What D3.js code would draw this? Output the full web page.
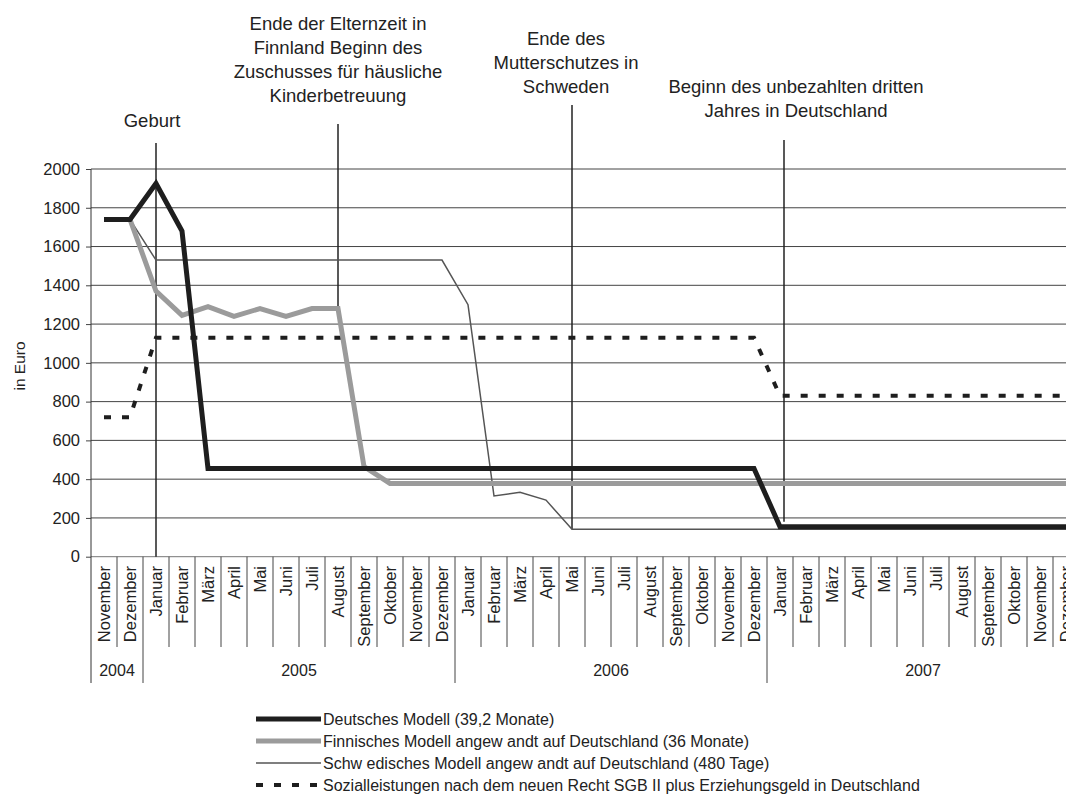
<!DOCTYPE html>
<html>
<head>
<meta charset="utf-8">
<title>Elterngeld Modelle</title>
<script src="https://d3js.org/d3.v7.min.js"></script>
<style>
body { margin: 0; background: white; }
svg text { fill: #222; font-family: "Liberation Sans", Arial, sans-serif; }
</style>
</head>
<body>
<script>
// months from November 2004 to Dezember 2007
var months = ["November","Dezember",
  "Januar","Februar","März","April","Mai","Juni","Juli","August","September","Oktober","November","Dezember",
  "Januar","Februar","März","April","Mai","Juni","Juli","August","September","Oktober","November","Dezember",
  "Januar","Februar","März","April","Mai","Juni","Juli","August","September","Oktober","November","Dezember"];
var years = ["2004","2005","2006","2007"];
var yearMonths = [2,12,12,12];

// series values in Euro, one per month
var deutsch = [1740,1740,1925,1680,455,455,455,455,455,455,455,455,455,455,
  455,455,455,455,455,455,455,455,455,455,455,455,
  155,155,155,155,155,155,155,155,155,155,155,155];
var finnisch = [1740,1740,1370,1245,1290,1240,1280,1240,1280,1280,465,378,378,378,
  378,378,378,378,378,378,378,378,378,378,378,378,
  378,378,378,378,378,378,378,378,378,378,378,378];
var schwedisch = [1740,1740,1530,1530,1530,1530,1530,1530,1530,1530,1530,1530,1530,1530,
  1300,313,332,292,141,141,141,141,141,141,141,141,
  141,141,141,141,141,141,141,141,141,141,141,141];
var sozial = [720,720,1130,1130,1130,1130,1130,1130,1130,1130,1130,1130,1130,1130,
  1130,1130,1130,1130,1130,1130,1130,1130,1130,1130,1130,1130,
  830,830,830,830,830,830,830,830,830,830,830,830];

var yTicks = [0,200,400,600,800,1000,1200,1400,1600,1800,2000];

var legendLabels = ["Deutsches Modell (39,2 Monate)",
  "Finnisches Modell angew andt auf Deutschland (36 Monate)",
  "Schw edisches Modell angew andt auf Deutschland (480 Tage)",
  "Sozialleistungen nach dem neuen Recht SGB II plus Erziehungsgeld in Deutschland"];

// event markers: month index, value where the line stops, text lines
var eventIndex = [2, 9, 18, 26];
var eventEnd = [0, 1280, 141, 180];
var eventText = [["Geburt"],
  ["Ende der Elternzeit in","Finnland Beginn des","Zuschusses für häusliche","Kinderbetreuung"],
  ["Ende des","Mutterschutzes in","Schweden"],
  ["Beginn des unbezahlten dritten","Jahres in Deutschland"]];

var width = 1066, height = 807;
var plotLeft = 91, plotTop = 169, plotBottom = 556.7, bandW = 26;

var svg = d3.select("body").append("svg")
  .attr("width", width).attr("height", height)
  .attr("font-family", "Liberation Sans, Arial, sans-serif");

var x = d3.scaleBand()
  .domain(d3.range(months.length))
  .range([plotLeft, plotLeft + bandW * months.length]);
var y = d3.scaleLinear().domain([0, 2000]).range([plotBottom, plotTop]);
var cx = function(i) { return x(i) + x.bandwidth() / 2; };
var plotRight = plotLeft + bandW * months.length;

// horizontal grid
svg.append("g").selectAll("line")
  .data(yTicks)
  .enter().append("line")
  .attr("x1", plotLeft).attr("x2", plotRight)
  .attr("y1", function(d) { return y(d); }).attr("y2", function(d) { return y(d); })
  .attr("stroke", function(d) { return d == 0 ? "#777" : "#444"; })
  .attr("stroke-width", 1);

// y axis
var yAxis = svg.append("g")
  .attr("transform", "translate(" + plotLeft + ",0)")
  .call(d3.axisLeft(y).tickValues(yTicks).tickSize(5).tickFormat(d3.format("d")));
yAxis.select(".domain").remove();
yAxis.selectAll(".tick line").attr("stroke", "#444");
yAxis.selectAll(".tick text")
  .attr("x", -11)
  .style("font-size", "16.5px")
  .attr("fill", "#222");
svg.append("line")
  .attr("x1", plotLeft).attr("x2", plotLeft).attr("y1", plotTop).attr("y2", 683)
  .attr("stroke", "#333");

svg.append("text")
  .attr("transform", "translate(20,366) rotate(-90)")
  .attr("text-anchor", "middle")
  .attr("dy", "0.35em")
  .style("font-size", "15.5px")
  .text("in Euro");

// month ticks and labels
var firstOfYear = [];
var acc = 0;
yearMonths.forEach(function(n) { firstOfYear.push(acc); acc += n; });

svg.append("g").selectAll("line")
  .data(d3.range(1, months.length))
  .enter().append("line")
  .attr("x1", function(i) { return x(i); }).attr("x2", function(i) { return x(i); })
  .attr("y1", plotBottom)
  .attr("y2", function(i) { return firstOfYear.indexOf(i) >= 0 ? 683 : 647; })
  .attr("stroke", "#444");

svg.append("g").selectAll("text")
  .data(months)
  .enter().append("text")
  .attr("transform", function(d, i) { return "translate(" + cx(i) + ",566) rotate(-90)"; })
  .attr("text-anchor", "end")
  .attr("dy", "0.36em")
  .style("font-size", "16.5px")
  .text(function(d) { return d; });

svg.append("g").selectAll("text")
  .data(years)
  .enter().append("text")
  .attr("x", function(d, i) {
    var a = x(firstOfYear[i]);
    var b = x(firstOfYear[i] + yearMonths[i] - 1) + bandW;
    return (a + b) / 2;
  })
  .attr("y", 676)
  .attr("text-anchor", "middle")
  .style("font-size", "16px")
  .text(function(d) { return d; });

// event lines
var eventTop = [143, 124, 105, 140];
var eventTextX = [152, 338, 566, 796];
var eventTextY = [127, 30, 45, 93];
eventIndex.forEach(function(idx, k) {
  var ex = cx(idx) + (k == 3 ? 4 : 0);
  svg.append("line")
    .attr("x1", ex).attr("x2", ex)
    .attr("y1", eventTop[k]).attr("y2", y(eventEnd[k]))
    .attr("stroke", "#222").attr("stroke-width", 1.5);
  var t = svg.append("text")
    .attr("text-anchor", "middle")
    .style("font-size", "18.5px");
  eventText[k].forEach(function(s, j) {
    t.append("tspan").attr("x", eventTextX[k]).attr("y", eventTextY[k] + j * 24).text(s);
  });
});

// series
var line = d3.line()
  .x(function(d, i) { return cx(i); })
  .y(function(d) { return y(d); });

var styles = [
  { data: sozial, color: "#1e1e1e", w: 4, dash: "7,11" },
  { data: schwedisch, color: "#555", w: 1.5, dash: null },
  { data: finnisch, color: "#9b9b9b", w: 5, dash: null },
  { data: deutsch, color: "#1e1e1e", w: 5, dash: null }
];
styles.forEach(function(s) {
  svg.append("path")
    .attr("d", line(s.data))
    .attr("fill", "none")
    .attr("stroke", s.color)
    .attr("stroke-width", s.w)
    .attr("stroke-dasharray", s.dash);
});

// legend
var legendStyles = [styles[3], styles[2], styles[1], styles[0]];
var lg = svg.append("g");
legendLabels.forEach(function(lab, i) {
  var ly = 719 + i * 22;
  lg.append("line")
    .attr("x1", 256).attr("x2", 321).attr("y1", ly).attr("y2", ly)
    .attr("stroke", legendStyles[i].color)
    .attr("stroke-width", legendStyles[i].w)
    .attr("stroke-dasharray", legendStyles[i].dash);
  lg.append("text")
    .attr("x", 323).attr("y", ly).attr("dy", "0.35em")
    .style("font-size", "16px")
    .text(lab);
});
</script>
</body>
</html>
